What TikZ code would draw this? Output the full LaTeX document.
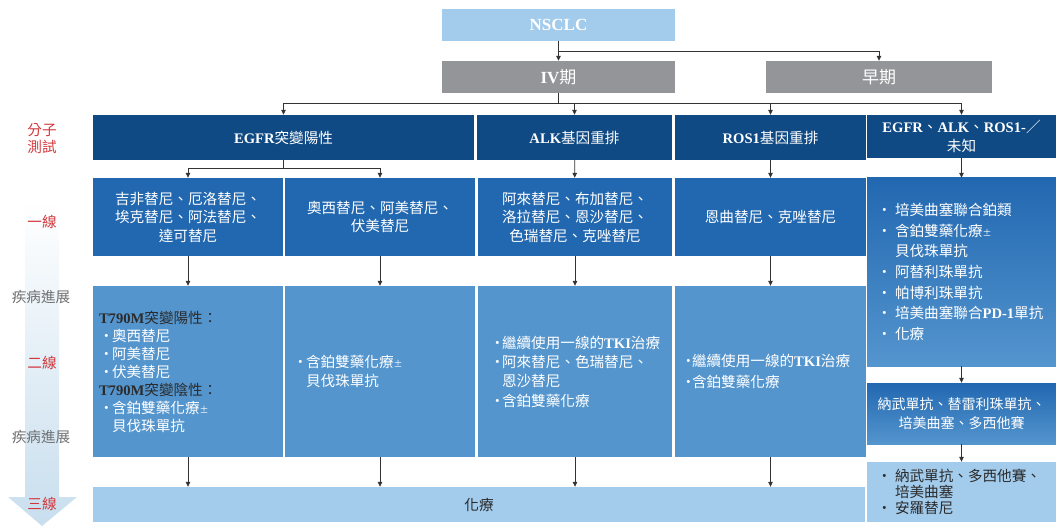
\documentclass[tikz,border=0pt]{standalone}
\usepackage{fontspec}
\setmainfont{Noto Sans CJK TC}
\newfontfamily\enfont{Liberation Serif}
\usetikzlibrary{arrows.meta}

\definecolor{paleblue}{HTML}{A2CBEC}
\definecolor{stagegray}{HTML}{939598}
\definecolor{headblue}{HTML}{0F4A84}
\definecolor{firstblue}{HTML}{2268B1}
\definecolor{secondblue}{HTML}{5495CE}
\definecolor{linered}{HTML}{D2373C}
\definecolor{progray}{HTML}{6D6E71}
\definecolor{darktext}{HTML}{2B2B2B}
\definecolor{arrowgray}{HTML}{333333}
\definecolor{bandblue}{HTML}{C8DEEE}

\newcommand\en[1]{{\enfont\bfseries #1}}
\newcommand\bul[1][13pt]{\makebox[#1][l]{•}}
\newcommand\smallpm{{\fontsize{9}{9}\selectfont ±}}

\begin{document}
\begin{tikzpicture}[x=1pt,y=-1pt,
  txt/.style={font=\fontsize{14.6}{18.5}\selectfont},
  cell/.style={txt,inner sep=0pt,text=white,align=center},
  side/.style={txt,inner sep=0pt,align=center},
  arr/.style={draw=arrowgray,line width=0.8pt,-{Triangle[length=5pt,width=4.5pt]}},
]
\useasboundingbox (0,0) rectangle (1056,526);

\shade[top color=white,bottom color=bandblue]
(25,201) -- (59,201) -- (59,497) -- (77,497) -- (42,526) -- (8,497) -- (25,497) -- cycle;

\node[side,text=linered,font=\fontsize{14.6}{17}\selectfont] (mol) at (42,138.5) {分子\\測試};
\node[side,text=linered] (first) at (42,222) {一線};
\node[side,text=progray] (prog1) at (41,297) {疾病進展};
\node[side,text=linered] (second) at (42,363) {二線};
\node[side,text=progray] (prog2) at (41,437) {疾病進展};
\node[side,text=linered] (third) at (42,504) {三線};

\node[cell,fill=paleblue,minimum width=233pt,minimum height=32pt,font=\fontsize{17}{20}\selectfont] (nsclc) at (558.5,25) {\en{NSCLC}};
\node[cell,fill=stagegray,minimum width=233pt,minimum height=32pt,font=\fontsize{17}{20}\selectfont] (iv) at (558.5,77) {\en{IV}期};
\node[cell,fill=stagegray,minimum width=226pt,minimum height=32pt,font=\fontsize{17}{20}\selectfont] (early) at (879,77) {早期};

\node[cell,fill=headblue,minimum width=381pt,minimum height=45pt] (egfr) at (283.5,137.5) {\en{EGFR}突變陽性};
\node[cell,fill=headblue,minimum width=195pt,minimum height=45pt] (alk) at (574.5,137.5) {\en{ALK}基因重排};
\node[cell,fill=headblue,minimum width=191pt,minimum height=45pt] (ros) at (770.5,137.5) {\en{ROS1}基因重排};
\node[cell,fill=headblue,minimum width=189pt,minimum height=43pt] (unk) at (961.5,136.5) {\en{EGFR}、\en{ALK}、\en{ROS1-}／\\未知};

\node[cell,fill=firstblue,minimum width=190pt,minimum height=78pt] (l1a) at (188,217) {吉非替尼、厄洛替尼、\\埃克替尼、阿法替尼、\\達可替尼};
\node[cell,fill=firstblue,minimum width=190pt,minimum height=78pt] (l1b) at (380,217) {奧西替尼、阿美替尼、\\伏美替尼};
\node[cell,fill=firstblue,minimum width=194pt,minimum height=78pt] (l1c) at (575,217) {阿來替尼、布加替尼、\\洛拉替尼、恩沙替尼、\\色瑞替尼、克唑替尼};
\node[cell,fill=firstblue,minimum width=191pt,minimum height=78pt] (l1d) at (770.5,217) {恩曲替尼、克唑替尼};
\node[cell,top color=firstblue,bottom color=secondblue,minimum width=189pt,minimum height=188pt,
  inner xsep=10pt,text width=169pt,align=left,font=\fontsize{14.6}{20.7}\selectfont] (l1e) at (961.5,272) {%
\bul[18pt]培美曲塞聯合鉑類\\
\bul[18pt]含鉑雙藥化療\smallpm\\
\hspace*{18pt}貝伐珠單抗\\
\bul[18pt]阿替利珠單抗\\
\bul[18pt]帕博利珠單抗\\
\bul[18pt]培美曲塞聯合\en{PD-1}單抗\\
\bul[18pt]化療};

\node[cell,fill=secondblue,minimum width=190pt,minimum height=171pt,
  inner xsep=6pt,text width=178pt,align=left,font=\fontsize{14.6}{18}\selectfont] (l2a) at (188,371.5) {%
{\color{darktext}\en{T790M}突變陽性：}\\
\bul 奧西替尼\\
\bul 阿美替尼\\
\bul 伏美替尼\\
{\color{darktext}\en{T790M}突變陰性：}\\
\bul 含鉑雙藥化療\smallpm\\
\hspace*{13pt}貝伐珠單抗};
\node[cell,fill=secondblue,minimum width=190pt,minimum height=171pt,
  inner xsep=8pt,text width=174pt,align=left,font=\fontsize{14.6}{19}\selectfont] (l2b) at (380,371.5) {%
\bul 含鉑雙藥化療\smallpm\\
\hspace*{13pt}貝伐珠單抗};
\node[cell,fill=secondblue,minimum width=194pt,minimum height=171pt,
  inner xsep=12pt,text width=170pt,align=left,font=\fontsize{14.6}{19.3}\selectfont] (l2c) at (575,371.5) {%
\bul[12pt]繼續使用一線的\en{TKI}治療\\
\bul[12pt]阿來替尼、色瑞替尼、\\
\hspace*{12pt}恩沙替尼\\
\bul[12pt]含鉑雙藥化療};
\node[cell,fill=secondblue,minimum width=191pt,minimum height=171pt,
  inner xsep=6pt,text width=179pt,align=left,font=\fontsize{14.6}{21}\selectfont] (l2d) at (770.5,371.5) {%
\bul[11pt]繼續使用一線的\en{TKI}治療\\
\bul[11pt]含鉑雙藥化療};
\node[cell,top color=firstblue,bottom color=secondblue,minimum width=189pt,minimum height=61pt,
  font=\fontsize{14}{19}\selectfont] (l2e) at (961.5,413.5) {納武單抗、替雷利珠單抗、\\培美曲塞、多西他賽};

\node[cell,fill=paleblue,text=darktext,minimum width=189pt,minimum height=60pt,
  inner xsep=10pt,text width=169pt,align=left,font=\fontsize{14.6}{16.3}\selectfont] (l3e) at (961.5,492) {%
\bul[18pt]納武單抗、多西他賽、\\
\hspace*{18pt}培美曲塞\\
\bul[18pt]安羅替尼};
\node[cell,fill=paleblue,text=darktext,minimum width=772pt,minimum height=35pt] (chemo) at (479,504.5) {化療};

\draw[arr] (nsclc) -- (iv);
\draw[arr] (nsclc.south) ++(0,10) -| (early);
\foreach \n in {egfr,alk,ros,unk}
  \draw[arr] (iv.south) -- ++(0,10) -| (\n.north);
\foreach \n in {l1a,l1b}
  \draw[arr] (egfr.south) -- ++(0,8) -| (\n.north);
\draw[arr] (alk) -- (l1c);
\draw[arr] (ros) -- (l1d);
\draw[arr] (unk) -- (l1e);
\draw[arr] (l1a) -- (l2a);
\draw[arr] (l1b) -- (l2b);
\draw[arr] (l1c) -- (l2c);
\draw[arr] (l1d) -- (l2d);
\draw[arr] (l1e) -- (l2e);
\draw[arr] (l2e) -- (l3e);
\foreach \n in {l2a,l2b,l2c,l2d}
  \draw[arr] (\n.south) -- (\n.south |- chemo.north);
\end{tikzpicture}
\end{document}
